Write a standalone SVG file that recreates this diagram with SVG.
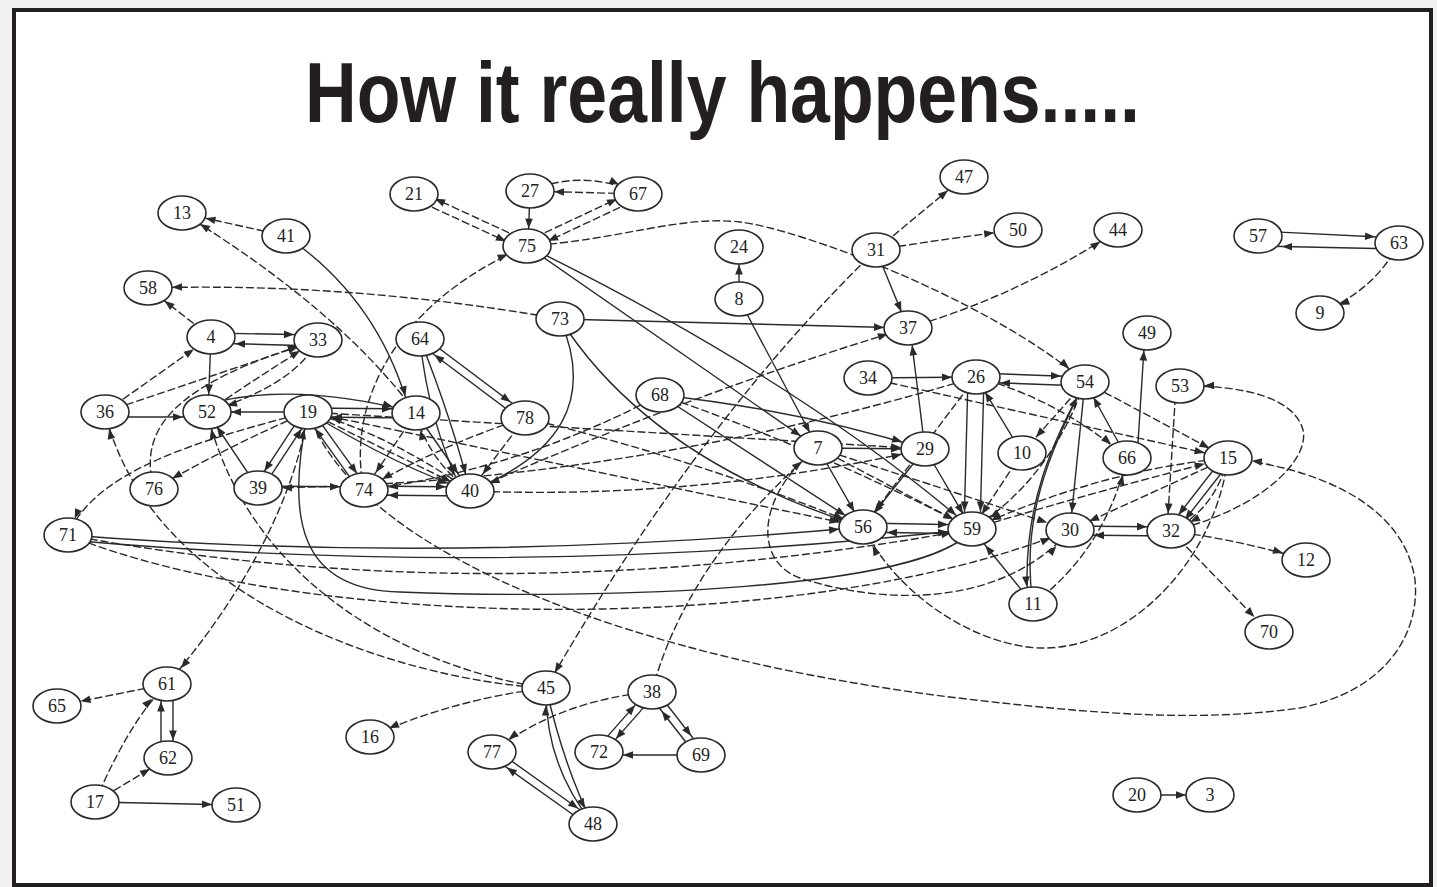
<svg xmlns="http://www.w3.org/2000/svg" width="1437" height="887" viewBox="0 0 1437 887">
<style>
.e{fill:none;stroke:#2a2a2a;stroke-width:1.4}
.d{stroke-dasharray:8 3}
.h{marker-end:url(#ah)}
.v{marker-end:url(#av)}
.g{marker-end:url(#ad)}
.n ellipse{fill:#fff;stroke:#2a2a2a;stroke-width:1.6}
.n text{font-family:"Liberation Serif","Times New Roman",serif;font-size:18px;fill:#222;text-anchor:middle}
.title{font-family:"Liberation Sans",Arial,sans-serif;font-weight:bold;font-size:85px;fill:#231f20}
</style>
<defs>
<marker id="ah" viewBox="-40 -6 40 12" markerWidth="40" markerHeight="12" refX="0" refY="0" orient="auto" markerUnits="userSpaceOnUse"><path d="M-24,0 L-34,-3.8 L-34,3.8 Z" fill="#2a2a2a"/></marker>
<marker id="ad" viewBox="-40 -6 40 12" markerWidth="40" markerHeight="12" refX="0" refY="0" orient="auto" markerUnits="userSpaceOnUse"><path d="M-21,0 L-31,-3.8 L-31,3.8 Z" fill="#2a2a2a"/></marker>
<marker id="av" viewBox="-40 -6 40 12" markerWidth="40" markerHeight="12" refX="0" refY="0" orient="auto" markerUnits="userSpaceOnUse"><path d="M-17.5,0 L-27.5,-3.8 L-27.5,3.8 Z" fill="#2a2a2a"/></marker>
</defs>
<rect x="0" y="0" width="1437" height="887" fill="#f1f1f1"/>
<rect x="14" y="10" width="1417" height="875" fill="#fff" stroke="#231f20" stroke-width="4"/>
<text class="title" x="305" y="122" textLength="835" lengthAdjust="spacingAndGlyphs">How it really happens.....</text>
<g id="connectors">
<path class="e d h" d="M286,236 L182,213"/>
<path class="e d g" d="M416,413 Q340,310 182,213"/>
<path class="e v" d="M286,236 Q380,300 410,413"/>
<path class="e d g" d="M412,198 L525,250"/>
<path class="e d g" d="M529,242 L416,190"/>
<path class="e d g" d="M530,191 Q585,168 638,194"/>
<path class="e d h" d="M638,194 L530,191"/>
<path class="e v" d="M530,191 L528,246"/>
<path class="e d g" d="M525,242 L636,190"/>
<path class="e d g" d="M640,198 L529,250"/>
<path class="e d g" d="M527,246 C620,240 680,215 740,222 S990,300 1085,382"/>
<path class="e d g" d="M364,490 C345,400 400,300 527,246"/>
<path class="e g" d="M527,246 L818,448"/>
<path class="e g" d="M527,246 Q800,380 972,529"/>
<path class="e v" d="M739,299 L739,247"/>
<path class="e v" d="M739,299 L818,448"/>
<path class="e d g" d="M876,250 L964,177"/>
<path class="e d h" d="M876,250 Q950,238 1018,230"/>
<path class="e v" d="M876,250 L908,328"/>
<path class="e d v" d="M876,250 Q700,420 546,688"/>
<path class="e d g" d="M908,328 Q1020,295 1118,230"/>
<path class="e h" d="M560,319 L908,328"/>
<path class="e d h" d="M560,319 Q350,282 148,288"/>
<path class="e g" d="M560,319 C595,400 560,455 470,491"/>
<path class="e g" d="M560,319 Q650,460 863,527"/>
<path class="e d g" d="M470,491 Q700,390 908,328"/>
<path class="e v" d="M925,449 L910,328"/>
<path class="e h" d="M1258,231 L1399,238"/>
<path class="e h" d="M1399,249 L1258,246"/>
<path class="e d g" d="M1399,243 Q1375,290 1320,313"/>
<path class="e h" d="M976,373 L1085,377"/>
<path class="e h" d="M1085,386 L976,382"/>
<path class="e v" d="M1137,458 L1145,333"/>
<path class="e d v" d="M1176,386 L1167,531"/>
<path class="e d h" d="M1171,531 C1260,510 1310,460 1303,430 C1295,400 1250,385 1180,386"/>
<path class="e d h" d="M308,412 C360,560 650,660 950,697 C1100,715 1200,722 1300,708 C1390,690 1420,630 1415,580 C1405,510 1330,470 1228,458"/>
<path class="e d v" d="M546,688 C400,680 150,600 105,412"/>
<path class="e d v" d="M546,688 C420,670 250,590 207,412"/>
<path class="e d g" d="M546,688 Q450,700 370,737"/>
<path class="e d g" d="M308,412 C295,500 240,600 167,684"/>
<path class="e v" d="M972,529 C930,590 600,600 400,592 C300,590 285,520 308,412"/>
<path class="e h" d="M68,535 Q450,565 863,527"/>
<path class="e h" d="M68,540 Q520,580 972,529"/>
<path class="e d g" d="M68,535 Q500,615 972,529"/>
<path class="e d g" d="M68,535 C300,630 800,640 1070,530"/>
<path class="e h" d="M308,408 L416,409"/>
<path class="e h" d="M416,418 L308,417"/>
<path class="e h" d="M308,412 L207,412"/>
<path class="e h" d="M105,417 L207,417"/>
<path class="e h" d="M215,402 Q300,382 416,413"/>
<path class="e d g" d="M105,412 L211,337"/>
<path class="e h" d="M211,333 L318,335"/>
<path class="e h" d="M318,346 L211,343"/>
<path class="e d g" d="M211,337 L148,288"/>
<path class="e v" d="M211,337 L208,412"/>
<path class="e d g" d="M105,412 L318,340"/>
<path class="e d g" d="M207,412 Q265,372 318,340"/>
<path class="e d g" d="M318,340 Q295,385 207,412"/>
<path class="e d g" d="M154,489 C138,430 170,385 318,340"/>
<path class="e d g" d="M308,412 Q230,445 154,489"/>
<path class="e d v" d="M308,412 C200,440 95,470 68,535"/>
<path class="e v" d="M304.7,409.8 L254.7,485.8"/>
<path class="e v" d="M261.3,490.2 L311.3,414.2"/>
<path class="e v" d="M258,488 L207,412"/>
<path class="e v" d="M311.2,409.7 L367.2,487.7"/>
<path class="e v" d="M360.8,492.3 L304.8,414.3"/>
<path class="e d g" d="M308,412 L470,491"/>
<path class="e h" d="M308,412 Q400,468 470,491"/>
<path class="e d h" d="M470,491 Q385,432 308,412"/>
<path class="e d h" d="M308,412 L863,527"/>
<path class="e d h" d="M308,412 L925,449"/>
<path class="e h" d="M258,486 L364,487"/>
<path class="e d h" d="M976,377 Q620,485 258,488"/>
<path class="e h" d="M364,486 L470,487"/>
<path class="e h" d="M470,496 L364,495"/>
<path class="e v" d="M420,339 Q452,420 470,491"/>
<path class="e v" d="M420,339 Q428,420 462,491"/>
<path class="e g" d="M422.4,335.8 L527.4,414.8"/>
<path class="e g" d="M522.6,421.2 L417.6,342.2"/>
<path class="e d g" d="M525,418 L470,491"/>
<path class="e d g" d="M525,418 Q440,445 364,490"/>
<path class="e g" d="M416,413 L470,491"/>
<path class="e d v" d="M470,491 Q428,460 416,413"/>
<path class="e d g" d="M416,413 L364,490"/>
<path class="e d h" d="M660,395 Q520,470 364,490"/>
<path class="e g" d="M660,395 L863,527"/>
<path class="e d g" d="M660,395 Q820,450 972,529"/>
<path class="e h" d="M660,395 Q800,410 925,449"/>
<path class="e d g" d="M525,418 Q700,460 863,527"/>
<path class="e d h" d="M470,491 Q700,500 925,449"/>
<path class="e h" d="M818,448 L925,449"/>
<path class="e v" d="M818,448 L863,527"/>
<path class="e d g" d="M818,448 L972,529"/>
<path class="e d h" d="M818,448 L1070,530"/>
<path class="e d g" d="M818,448 C760,490 750,560 800,578 C900,610 1010,600 1070,530"/>
<path class="e v" d="M925,449 L972,529"/>
<path class="e v" d="M925,449 L863,527"/>
<path class="e v" d="M968,377 L964,529"/>
<path class="e v" d="M984,377 L980,529"/>
<path class="e d g" d="M976,377 L863,527"/>
<path class="e d g" d="M1085,382 L1022,453"/>
<path class="e v" d="M1022,453 L976,377"/>
<path class="e d v" d="M1022,453 L972,529"/>
<path class="e v" d="M1085,382 L1070,530"/>
<path class="e d g" d="M1085,382 Q1050,480 972,529"/>
<path class="e v" d="M1033,604 C1020,520 1050,450 1085,382"/>
<path class="e v" d="M1085,382 C1060,430 1020,500 1028,604"/>
<path class="e g" d="M1033,604 L972,529"/>
<path class="e d v" d="M1033,604 Q1105,550 1127,458"/>
<path class="e v" d="M1127,458 L1085,382"/>
<path class="e d g" d="M976,377 Q1060,400 1127,458"/>
<path class="e h" d="M868,378 L976,377"/>
<path class="e d h" d="M868,378 L1228,458"/>
<path class="e d g" d="M1085,382 L1228,458"/>
<path class="e v" d="M1231.2,460.5 L1174.2,533.5"/>
<path class="e v" d="M1224.8,455.5 L1167.8,528.5"/>
<path class="e d g" d="M1228,458 Q1215,510 1171,531"/>
<path class="e d g" d="M1228,458 L1070,530"/>
<path class="e d g" d="M1228,458 Q1100,470 972,529"/>
<path class="e d h" d="M972,529 Q1100,490 1228,458"/>
<path class="e h" d="M1070,526 L1171,527"/>
<path class="e h" d="M1171,536 L1070,535"/>
<path class="e d h" d="M1171,531 Q1240,540 1306,560"/>
<path class="e d g" d="M1171,531 L1269,632"/>
<path class="e h" d="M863,523 L972,525"/>
<path class="e h" d="M972,534 L863,532"/>
<path class="e d g" d="M1228,458 C1215,560 1130,650 1040,648 C980,646 900,600 863,527"/>
<path class="e d g" d="M652,692 C670,620 720,530 818,448"/>
<path class="e d h" d="M167,684 L57,706"/>
<path class="e v" d="M173,684 L173,758"/>
<path class="e v" d="M161,758 L161,684"/>
<path class="e d g" d="M95,802 Q130,720 167,684"/>
<path class="e d g" d="M95,802 L168,758"/>
<path class="e h" d="M95,802 L236,805"/>
<path class="e h" d="M1137,795 L1210,795"/>
<path class="e d g" d="M652,692 Q560,700 492,752"/>
<path class="e v" d="M546,688 Q565,770 593,824"/>
<path class="e v" d="M593,824 Q545,765 546,688"/>
<path class="e g" d="M494.3,748.7 L595.3,820.7"/>
<path class="e g" d="M590.7,827.3 L489.7,755.3"/>
<path class="e g" d="M596,749.4 L649,689.4"/>
<path class="e g" d="M655,694.6 L602,754.6"/>
<path class="e g" d="M655.2,689.5 L704.2,752.5"/>
<path class="e g" d="M697.8,757.5 L648.8,694.5"/>
<path class="e h" d="M701,755 L599,755"/>
</g>
<g id="nodes">
<g id="n13" class="n"><ellipse cx="182" cy="213" rx="24" ry="17"/><text x="182" y="219">13</text></g>
<g id="n41" class="n"><ellipse cx="286" cy="236" rx="24" ry="17"/><text x="286" y="242">41</text></g>
<g id="n21" class="n"><ellipse cx="414" cy="194" rx="24" ry="17"/><text x="414" y="200">21</text></g>
<g id="n27" class="n"><ellipse cx="530" cy="191" rx="24" ry="17"/><text x="530" y="197">27</text></g>
<g id="n67" class="n"><ellipse cx="638" cy="194" rx="24" ry="17"/><text x="638" y="200">67</text></g>
<g id="n75" class="n"><ellipse cx="527" cy="246" rx="24" ry="17"/><text x="527" y="252">75</text></g>
<g id="n24" class="n"><ellipse cx="739" cy="247" rx="24" ry="17"/><text x="739" y="253">24</text></g>
<g id="n8" class="n"><ellipse cx="739" cy="299" rx="24" ry="17"/><text x="739" y="305">8</text></g>
<g id="n47" class="n"><ellipse cx="964" cy="177" rx="24" ry="17"/><text x="964" y="183">47</text></g>
<g id="n31" class="n"><ellipse cx="876" cy="250" rx="24" ry="17"/><text x="876" y="256">31</text></g>
<g id="n50" class="n"><ellipse cx="1018" cy="230" rx="24" ry="17"/><text x="1018" y="236">50</text></g>
<g id="n44" class="n"><ellipse cx="1118" cy="230" rx="24" ry="17"/><text x="1118" y="236">44</text></g>
<g id="n57" class="n"><ellipse cx="1258" cy="236" rx="24" ry="17"/><text x="1258" y="242">57</text></g>
<g id="n63" class="n"><ellipse cx="1399" cy="243" rx="24" ry="17"/><text x="1399" y="249">63</text></g>
<g id="n9" class="n"><ellipse cx="1320" cy="313" rx="24" ry="17"/><text x="1320" y="319">9</text></g>
<g id="n58" class="n"><ellipse cx="148" cy="288" rx="24" ry="17"/><text x="148" y="294">58</text></g>
<g id="n73" class="n"><ellipse cx="560" cy="319" rx="24" ry="17"/><text x="560" y="325">73</text></g>
<g id="n37" class="n"><ellipse cx="908" cy="328" rx="24" ry="17"/><text x="908" y="334">37</text></g>
<g id="n49" class="n"><ellipse cx="1147" cy="333" rx="24" ry="17"/><text x="1147" y="339">49</text></g>
<g id="n4" class="n"><ellipse cx="211" cy="337" rx="24" ry="17"/><text x="211" y="343">4</text></g>
<g id="n33" class="n"><ellipse cx="318" cy="340" rx="24" ry="17"/><text x="318" y="346">33</text></g>
<g id="n64" class="n"><ellipse cx="420" cy="339" rx="24" ry="17"/><text x="420" y="345">64</text></g>
<g id="n34" class="n"><ellipse cx="868" cy="378" rx="24" ry="17"/><text x="868" y="384">34</text></g>
<g id="n26" class="n"><ellipse cx="976" cy="377" rx="24" ry="17"/><text x="976" y="383">26</text></g>
<g id="n54" class="n"><ellipse cx="1085" cy="382" rx="24" ry="17"/><text x="1085" y="388">54</text></g>
<g id="n53" class="n"><ellipse cx="1180" cy="386" rx="24" ry="17"/><text x="1180" y="392">53</text></g>
<g id="n68" class="n"><ellipse cx="660" cy="395" rx="24" ry="17"/><text x="660" y="401">68</text></g>
<g id="n36" class="n"><ellipse cx="105" cy="412" rx="24" ry="17"/><text x="105" y="418">36</text></g>
<g id="n52" class="n"><ellipse cx="207" cy="412" rx="24" ry="17"/><text x="207" y="418">52</text></g>
<g id="n19" class="n"><ellipse cx="308" cy="412" rx="24" ry="17"/><text x="308" y="418">19</text></g>
<g id="n14" class="n"><ellipse cx="416" cy="413" rx="24" ry="17"/><text x="416" y="419">14</text></g>
<g id="n78" class="n"><ellipse cx="525" cy="418" rx="24" ry="17"/><text x="525" y="424">78</text></g>
<g id="n7" class="n"><ellipse cx="818" cy="448" rx="24" ry="17"/><text x="818" y="454">7</text></g>
<g id="n29" class="n"><ellipse cx="925" cy="449" rx="24" ry="17"/><text x="925" y="455">29</text></g>
<g id="n10" class="n"><ellipse cx="1022" cy="453" rx="24" ry="17"/><text x="1022" y="459">10</text></g>
<g id="n66" class="n"><ellipse cx="1127" cy="458" rx="24" ry="17"/><text x="1127" y="464">66</text></g>
<g id="n15" class="n"><ellipse cx="1228" cy="458" rx="24" ry="17"/><text x="1228" y="464">15</text></g>
<g id="n76" class="n"><ellipse cx="154" cy="489" rx="24" ry="17"/><text x="154" y="495">76</text></g>
<g id="n39" class="n"><ellipse cx="258" cy="488" rx="24" ry="17"/><text x="258" y="494">39</text></g>
<g id="n74" class="n"><ellipse cx="364" cy="490" rx="24" ry="17"/><text x="364" y="496">74</text></g>
<g id="n40" class="n"><ellipse cx="470" cy="491" rx="24" ry="17"/><text x="470" y="497">40</text></g>
<g id="n71" class="n"><ellipse cx="68" cy="535" rx="24" ry="17"/><text x="68" y="541">71</text></g>
<g id="n56" class="n"><ellipse cx="863" cy="527" rx="24" ry="17"/><text x="863" y="533">56</text></g>
<g id="n59" class="n"><ellipse cx="972" cy="529" rx="24" ry="17"/><text x="972" y="535">59</text></g>
<g id="n30" class="n"><ellipse cx="1070" cy="530" rx="24" ry="17"/><text x="1070" y="536">30</text></g>
<g id="n32" class="n"><ellipse cx="1171" cy="531" rx="24" ry="17"/><text x="1171" y="537">32</text></g>
<g id="n12" class="n"><ellipse cx="1306" cy="560" rx="24" ry="17"/><text x="1306" y="566">12</text></g>
<g id="n11" class="n"><ellipse cx="1033" cy="604" rx="24" ry="17"/><text x="1033" y="610">11</text></g>
<g id="n70" class="n"><ellipse cx="1269" cy="632" rx="24" ry="17"/><text x="1269" y="638">70</text></g>
<g id="n61" class="n"><ellipse cx="167" cy="684" rx="24" ry="17"/><text x="167" y="690">61</text></g>
<g id="n65" class="n"><ellipse cx="57" cy="706" rx="24" ry="17"/><text x="57" y="712">65</text></g>
<g id="n45" class="n"><ellipse cx="546" cy="688" rx="24" ry="17"/><text x="546" y="694">45</text></g>
<g id="n38" class="n"><ellipse cx="652" cy="692" rx="24" ry="17"/><text x="652" y="698">38</text></g>
<g id="n16" class="n"><ellipse cx="370" cy="737" rx="24" ry="17"/><text x="370" y="743">16</text></g>
<g id="n77" class="n"><ellipse cx="492" cy="752" rx="24" ry="17"/><text x="492" y="758">77</text></g>
<g id="n72" class="n"><ellipse cx="599" cy="752" rx="24" ry="17"/><text x="599" y="758">72</text></g>
<g id="n69" class="n"><ellipse cx="701" cy="755" rx="24" ry="17"/><text x="701" y="761">69</text></g>
<g id="n62" class="n"><ellipse cx="168" cy="758" rx="24" ry="17"/><text x="168" y="764">62</text></g>
<g id="n20" class="n"><ellipse cx="1137" cy="795" rx="24" ry="17"/><text x="1137" y="801">20</text></g>
<g id="n3" class="n"><ellipse cx="1210" cy="795" rx="24" ry="17"/><text x="1210" y="801">3</text></g>
<g id="n17" class="n"><ellipse cx="95" cy="802" rx="24" ry="17"/><text x="95" y="808">17</text></g>
<g id="n51" class="n"><ellipse cx="236" cy="805" rx="24" ry="17"/><text x="236" y="811">51</text></g>
<g id="n48" class="n"><ellipse cx="593" cy="824" rx="24" ry="17"/><text x="593" y="830">48</text></g>
</g>
</svg>
